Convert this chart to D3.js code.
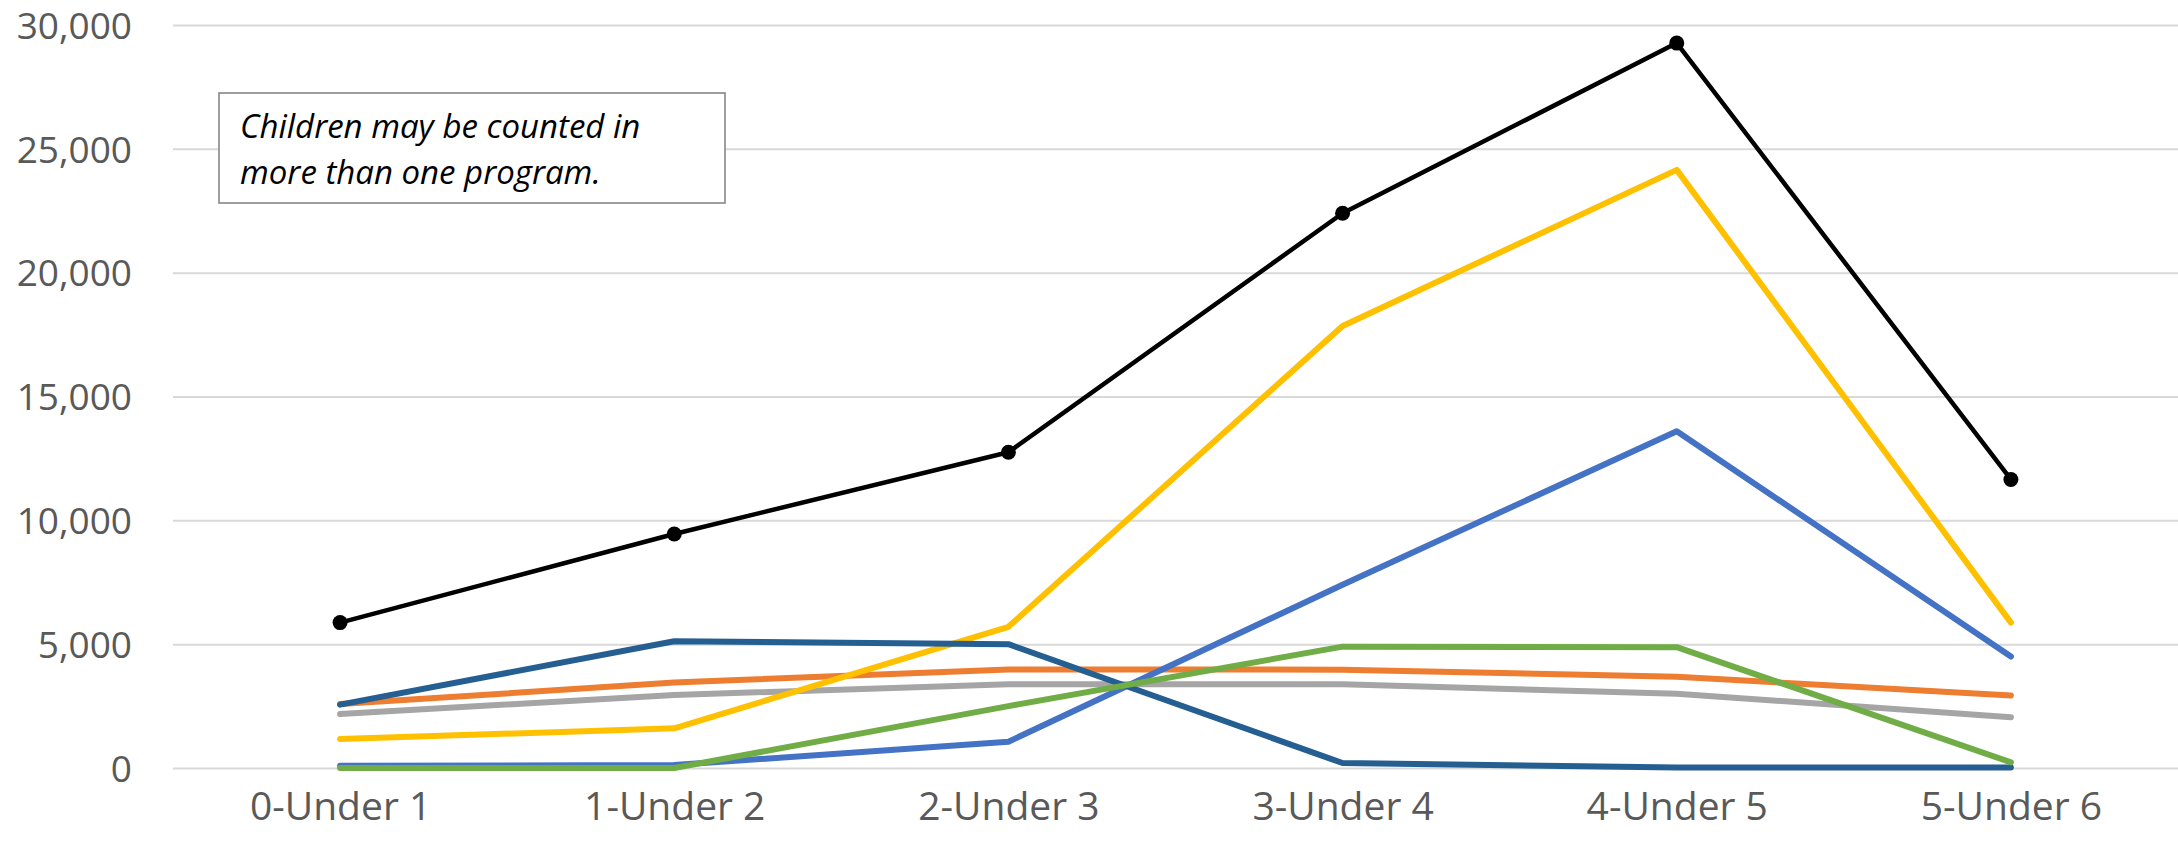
<!DOCTYPE html>
<html>
<head>
<meta charset="utf-8">
<script src="https://cdn.jsdelivr.net/npm/d3@7"></script>
<style>
  body { margin: 0; background: #fff; }
  svg { display: block; font-family: "Open Sans", sans-serif; }
  .tick text { fill: #595959; }
</style>
</head>
<body>
<div id="vis"></div>
<script>
// Declare constants
const FRAME_HEIGHT = 850;
const FRAME_WIDTH = 2178;
const MARGINS = {left: 173, right: 0, top: 25, bottom: 82};

const VIS_HEIGHT = FRAME_HEIGHT - MARGINS.top - MARGINS.bottom;
const VIS_WIDTH = FRAME_WIDTH - MARGINS.left - MARGINS.right;

// data
const AGE_GROUPS = ["0-Under 1", "1-Under 2", "2-Under 3", "3-Under 4", "4-Under 5", "5-Under 6"];
const Y_TICKS = [0, 5000, 10000, 15000, 20000, 25000, 30000];

const DARK_BLUE = [2560, 5120, 5000, 200, 20, 20];
const ORANGE = [2580, 3450, 3980, 3970, 3680, 2930];
const GRAY = [2180, 2950, 3380, 3380, 3000, 2050];
const YELLOW = [1170, 1600, 5700, 17850, 24150, 5870];
const BLUE = [90, 120, 1060, 7400, 13600, 4500];
const GREEN = [0, 0, 2500, 4900, 4880, 230];
const TOTAL = [5870, 9450, 12750, 22400, 29270, 11650];

const NOTE_LINES = ["Children may be counted in", "more than one program."];

// draw order: last on top
const SERIES = [
  {values: GRAY, color: "#A5A5A5"},
  {values: ORANGE, color: "#ED7D31"},
  {values: BLUE, color: "#4472C4"},
  {values: YELLOW, color: "#FFC000"},
  {values: DARK_BLUE, color: "#255E91"},
  {values: GREEN, color: "#70AD47"}
];

const FRAME = d3.select("#vis")
  .append("svg")
    .attr("width", FRAME_WIDTH)
    .attr("height", FRAME_HEIGHT);

// scales
const X_SCALE = d3.scalePoint()
  .domain(AGE_GROUPS)
  .range([0, VIS_WIDTH])
  .padding(0.5);

const Y_SCALE = d3.scaleLinear()
  .domain([0, 30000])
  .range([VIS_HEIGHT, 0]);

const G = FRAME.append("g")
  .attr("transform", "translate(" + MARGINS.left + "," + MARGINS.top + ")");

// gridlines
G.append("g")
  .call(d3.axisLeft(Y_SCALE).tickValues(Y_TICKS).tickSize(-VIS_WIDTH).tickFormat(""))
  .call(g => g.select(".domain").remove())
  .call(g => g.selectAll("line").attr("stroke", "#D9D9D9").attr("stroke-width", 2));

// y axis labels
G.append("g")
  .call(d3.axisLeft(Y_SCALE).tickValues(Y_TICKS).tickSize(0).tickPadding(41)
    .tickFormat(d3.format(",")))
  .call(g => g.select(".domain").remove())
  .attr("font-size", "37px")
  .attr("font-family", "Open Sans, sans-serif")
  .call(g => g.selectAll("text").attr("dy", "0.36em"));

// x axis labels
G.append("g")
  .attr("transform", "translate(0," + VIS_HEIGHT + ")")
  .call(d3.axisBottom(X_SCALE).tickSize(0).tickPadding(24))
  .call(g => g.select(".domain").remove())
  .attr("font-size", "39px")
  .attr("font-family", "Open Sans, sans-serif");

const LINE = d3.line()
  .x((d, i) => X_SCALE(AGE_GROUPS[i]))
  .y(d => Y_SCALE(d));

// colored series
G.selectAll(".series")
  .data(SERIES)
  .enter()
  .append("path")
    .attr("class", "series")
    .attr("d", d => LINE(d.values))
    .attr("fill", "none")
    .attr("stroke", d => d.color)
    .attr("stroke-width", 6)
    .attr("stroke-linejoin", "round")
    .attr("stroke-linecap", "round");

// total line with markers
G.append("path")
  .attr("d", LINE(TOTAL))
  .attr("fill", "none")
  .attr("stroke", "#000")
  .attr("stroke-width", 4.5)
  .attr("stroke-linejoin", "round");

G.selectAll(".marker")
  .data(TOTAL)
  .enter()
  .append("circle")
    .attr("class", "marker")
    .attr("cx", (d, i) => X_SCALE(AGE_GROUPS[i]))
    .attr("cy", d => Y_SCALE(d))
    .attr("r", 7.5)
    .attr("fill", "#000");

// note box
const NOTE = FRAME.append("g").attr("transform", "translate(219,93)");
NOTE.append("rect")
  .attr("width", 506)
  .attr("height", 110)
  .attr("fill", "#fff")
  .attr("stroke", "#7F7F7F")
  .attr("stroke-width", 1.5);
NOTE.selectAll("text")
  .data(NOTE_LINES)
  .enter()
  .append("text")
    .attr("x", 21)
    .attr("y", (d, i) => 45 + i * 46)
    .attr("font-size", "33px")
    .attr("font-style", "italic")
    .attr("fill", "#000")
    .text(d => d);
</script>
</body>
</html>
